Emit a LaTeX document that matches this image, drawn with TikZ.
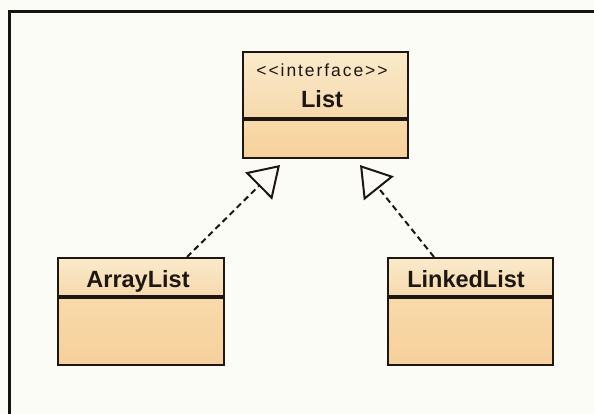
\documentclass[tikz,border=0pt]{standalone}
\usepackage{fontspec}
\setmainfont{Liberation Sans}
\newfontfamily\stereofont{Liberation Sans}[LetterSpace=11]
\usetikzlibrary{arrows.meta,calc}
\definecolor{paper}{HTML}{FCFCF6}
\definecolor{frameline}{HTML}{141414}
\definecolor{boxline}{HTML}{1E1612}
\definecolor{hdrtop}{HTML}{FAEACB}
\definecolor{hdrbot}{HTML}{F6D9AC}
\definecolor{bodytop}{HTML}{F8DAAA}
\definecolor{bodybot}{HTML}{F6D09C}
\begin{document}
\begin{tikzpicture}[x=1pt,y=-1pt,
  compart/.style={draw=boxline, line width=2pt, inner sep=0pt, anchor=north west},
  hdrpart/.style={compart, top color=hdrtop, bottom color=hdrbot},
  bodypart/.style={compart, top color=bodytop, bottom color=bodybot},
  classname/.style={anchor=base, inner sep=0pt, text=boxline,
    font=\bfseries\fontsize{23.5}{27}\selectfont},
  stereo/.style={anchor=base, inner sep=0pt, text=boxline,
    font=\stereofont\fontsize{17.5}{20}\selectfont},
  realizes/.style={draw=boxline, line width=2pt, dash pattern=on 6pt off 4pt,
    -{Triangle[open, length=30pt, width=38pt, line width=2pt]}}
]
\useasboundingbox (0,0) rectangle (594,414);
\fill[paper] (0,0) rectangle (594,414);
% window frame, running off the right and bottom edges
\draw[frameline, line width=3pt] (9.5,430) -- (9.5,12) -- (610,12);

% interface List
\node[hdrpart, minimum width=165pt, minimum height=66pt] (listhead) at (242,51) {};
\node[bodypart, minimum width=165pt, minimum height=38pt] (listbody) at (listhead.south west) {};
\node[stereo] (liststereo) at (322,77) {<<interface>>};
\node[classname] (listname) at (322,108) {List};

% class ArrayList
\node[hdrpart, minimum width=166pt, minimum height=38pt] (alhead) at (57,257) {};
\node[bodypart, minimum width=166pt, minimum height=67pt] (albody) at (alhead.south west) {};
\node[classname] (alname) at (138,287) {ArrayList};

% class LinkedList
\node[hdrpart, minimum width=165pt, minimum height=38pt] (llhead) at (387,257) {};
\node[bodypart, minimum width=165pt, minimum height=67pt] (llbody) at (llhead.south west) {};
\node[classname] (llname) at (466,287) {LinkedList};

% realization arrows towards the interface
\coordinate (altip) at ($(listhead.south west)+(38,46)$);
\coordinate (lltip) at ($(listhead.south west)+(118,46)$);
\draw[realizes] ($(alhead.north west)+(130,0)$) -- (altip);
\draw[realizes] ($(llhead.north west)+(47,0)$) -- (lltip);
\end{tikzpicture}
\end{document}
